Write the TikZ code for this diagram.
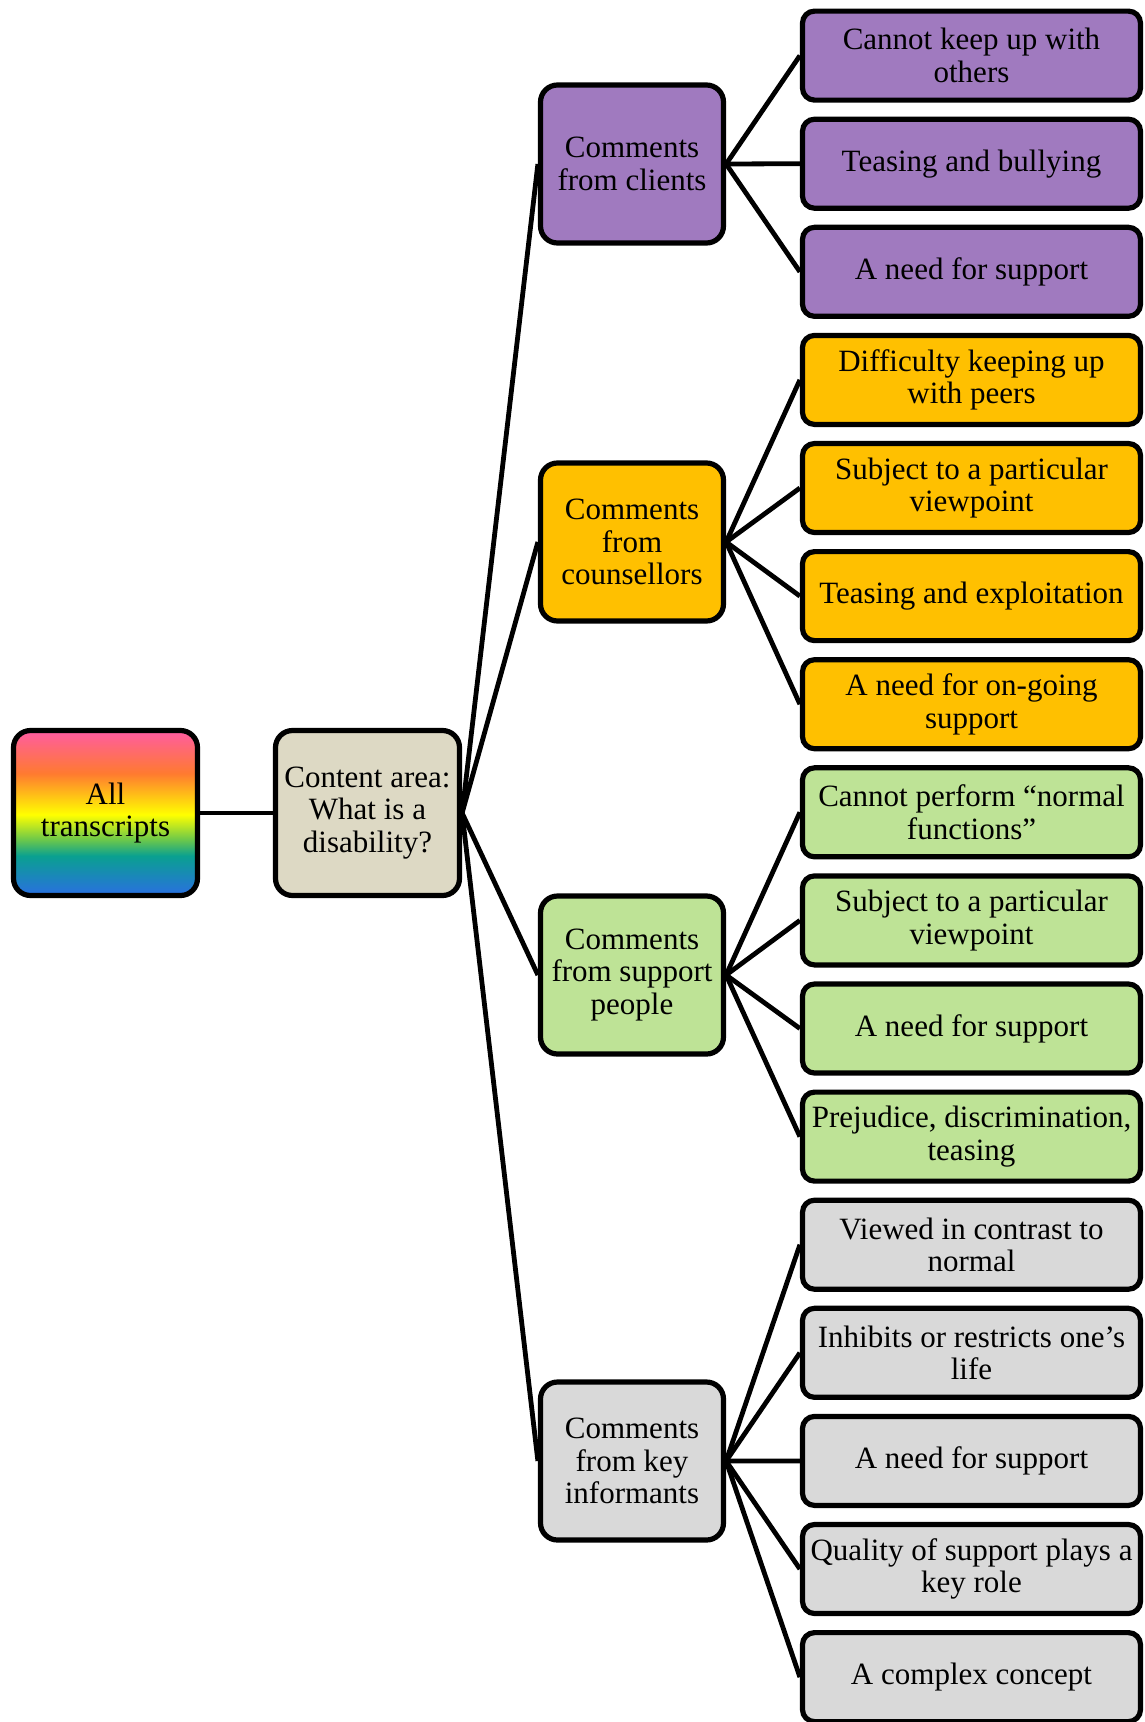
\documentclass[tikz,border=0pt]{standalone}
\usepackage{fontspec}
\setmainfont{Liberation Serif}
\usetikzlibrary{positioning}
\definecolor{ClientPurple}{HTML}{A07ABF}
\definecolor{CounsGold}{HTML}{FFC000}
\definecolor{SupportGreen}{HTML}{BEE396}
\definecolor{KeyGrey}{HTML}{D9D9D9}
\definecolor{AreaBeige}{HTML}{DDD9C4}
\definecolor{RbPink}{HTML}{FF5CA2}
\definecolor{RbOrange}{HTML}{FF7A30}
\definecolor{RbYellow}{HTML}{FFFF00}
\definecolor{RbGreen}{HTML}{6CC84A}
\definecolor{RbTeal}{HTML}{0AA090}
\definecolor{RbBlue}{HTML}{2A6FE2}
\pgfdeclareverticalshading{rainbowfill}{100bp}{color(0bp)=(RbBlue); color(25bp)=(RbBlue);
  color(37bp)=(RbTeal); color(42bp)=(RbGreen); color(49.5bp)=(RbYellow);
  color(62bp)=(RbOrange); color(75bp)=(RbPink); color(100bp)=(RbPink)}

\begin{document}
\begin{tikzpicture}[x=1pt, y=-1pt,
  box/.style={draw, line width=5.2pt, rounded corners=17pt, align=center, inner sep=2pt,
    font=\fontsize{31}{32.5}\selectfont},
  bigbox/.style={box, minimum width=184pt, minimum height=165pt},
  midbox/.style={box, minimum width=183pt, minimum height=158pt},
  leafbox/.style={box, rounded corners=12pt, minimum width=338pt, minimum height=89pt},
  link/.style={line width=4.8pt}]
  \useasboundingbox (0,0) rectangle (1145,1722);
  % Root and content area
  \node[bigbox, shade, shading=rainbowfill] (root) at (105.5,813) {All\\transcripts};
  \node[bigbox, fill=AreaBeige] (area) at (367.5,813) {Content area:\\What is a\\disability?};
  % Sources of comments
  \node[midbox, fill=ClientPurple] (clients) at (632,164) {Comments\\from clients};
  \node[midbox, fill=CounsGold] (counsellors) at (632,542) {Comments\\from\\counsellors};
  \node[midbox, fill=SupportGreen] (support) at (632,975) {Comments\\from support\\people};
  \node[midbox, fill=KeyGrey] (informants) at (632,1461) {Comments\\from key\\informants};
  % Themes
  \foreach \n/\clr/\txt [evaluate=\n as \yy using 55.6+(\n-1)*108.1] in {
      1/ClientPurple/{Cannot keep up with\\others},
      2/ClientPurple/{Teasing and bullying},
      3/ClientPurple/{A need for support},
      4/CounsGold/{Difficulty keeping up\\with peers},
      5/CounsGold/{Subject to a particular\\viewpoint},
      6/CounsGold/{Teasing and exploitation},
      7/CounsGold/{A need for on-going\\support},
      8/SupportGreen/{Cannot perform “normal\\functions”},
      9/SupportGreen/{Subject to a particular\\viewpoint},
      10/SupportGreen/{A need for support},
      11/SupportGreen/{Prejudice, discrimination,\\teasing},
      12/KeyGrey/{Viewed in contrast to\\normal},
      13/KeyGrey/{Inhibits or restricts one’s\\life},
      14/KeyGrey/{A need for support},
      15/KeyGrey/{Quality of support plays a\\key role},
      16/KeyGrey/{A complex concept}} {
    \node[leafbox, fill=\clr] (l\n) at (971.5,\yy) {\txt};
  }
  % Connectors
  \draw[link] (root.east) -- (area.west);
  \foreach \m in {clients, counsellors, support, informants}
    \draw[link] (area.east) -- (\m.west);
  \foreach \n in {1,2,3} \draw[link] (clients.east) -- (l\n.west);
  \foreach \n in {4,...,7} \draw[link] (counsellors.east) -- (l\n.west);
  \foreach \n in {8,...,11} \draw[link] (support.east) -- (l\n.west);
  \foreach \n in {12,...,16} \draw[link] (informants.east) -- (l\n.west);
\end{tikzpicture}
\end{document}
